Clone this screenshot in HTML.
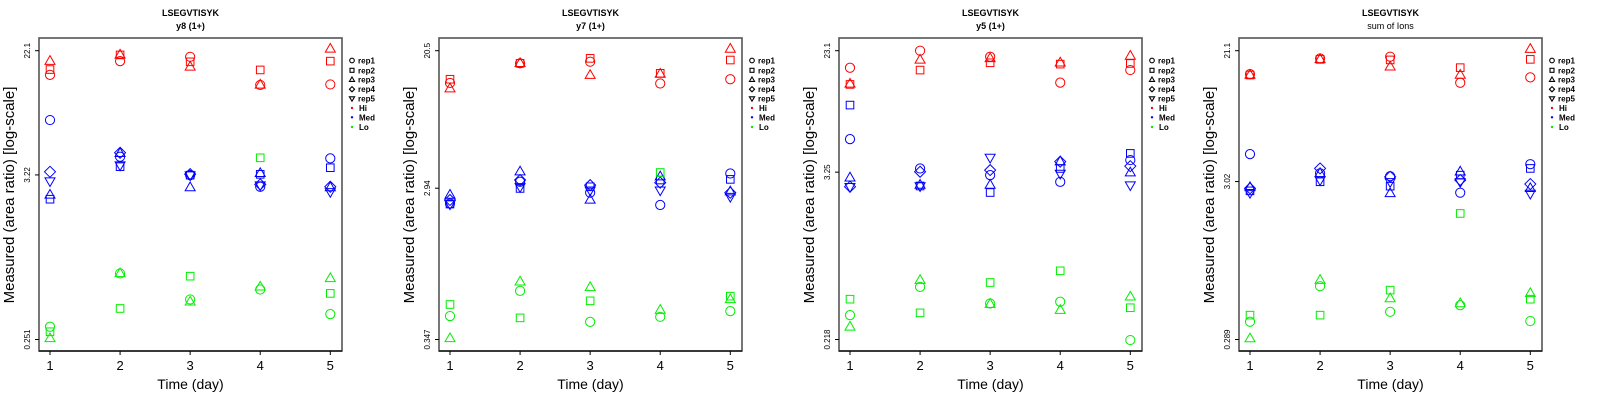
<!DOCTYPE html>
<html><head><meta charset="utf-8"><style>
html,body{margin:0;padding:0;background:#fff;}
svg{display:block;font-family:"Liberation Sans",sans-serif;}
</style></head><body>
<svg id="chart" width="1600" height="400" viewBox="0 0 1600 400" xmlns="http://www.w3.org/2000/svg"></svg>
<script>
const days = [1, 2, 3, 4, 5];
const panelTitles = ["y8 (1+)", "y7 (1+)", "y5 (1+)", "sum of Ions"];
const yTickTop = [22.1, 20.5, 23.1, 21.1];
const yTickMid = [3.22, 2.94, 3.25, 3.02];
const yTickBot = [0.251, 0.347, 0.218, 0.289];
const repNames = ["rep1", "rep2", "rep3", "rep4", "rep5"];
const levelNames = ["Hi", "Med", "Lo"];

// Panel 1 (y8)
const p1Hi = [[15.2,18.8,20.1,13.0,13.1],[16.5,20.7,18.6,16.4,18.8],[18.8,20.7,17.2,13.0,22.7]];
const p1Med = [[7.54,4.27,3.21,2.68,4.16],[2.21,3.66,3.21,3.25,3.60],[2.36,4.50,2.65,3.30,2.65],[3.38,4.54,3.26,2.78,2.68],[2.93,3.75,3.21,2.75,2.48]];
const p1Lo = [[0.306,0.699,0.467,0.545,0.372],[0.283,0.406,0.670,4.20,0.513],[0.255,0.699,0.450,0.568,0.647]];
// Panel 2 (y7)
const p2Hi = [[13.0,17.15,17.55,12.9,13.7],[13.7,17.15,18.4,14.9,17.97],[12.0,17.15,14.5,14.75,21.0]];
const p2Med = [[2.37,3.22,2.76,2.32,3.62],[2.35,2.93,3.00,3.30,3.33],[2.67,3.71,2.49,3.46,2.80],[2.49,3.30,3.07,3.18,2.76],[2.35,3.00,2.86,2.86,2.61]];
const p2Lo = [[0.483,0.690,0.445,0.478,0.518],[0.569,0.471,0.599,3.67,0.640],[0.352,0.784,0.724,0.525,0.611]];
// Panel 3 (y5)
const p3Hi = [[17.55,23.1,20.96,13.8,16.9],[13.4,16.9,19.0,18.6,18.8],[13.5,19.9,20.4,19.0,21.2]];
const p3Med = [[5.54,3.45,3.10,2.78,3.95],[9.60,2.60,2.34,3.45,4.40],[2.97,2.64,2.64,3.85,3.22],[2.57,3.27,3.36,3.85,3.58],[2.57,2.60,4.12,3.18,2.64]];
const p3Lo = [[0.323,0.510,0.390,0.401,0.216],[0.418,0.335,0.547,0.661,0.364],[0.267,0.568,0.386,0.350,0.434]];
// Panel 4 (sum of Ions)
const p4Hi = [[14.9,18.8,19.3,13.1,14.2],[14.7,18.55,18.4,16.4,18.55],[14.7,18.55,16.6,14.7,21.6]];
const p4Med = [[4.54,3.41,3.27,2.56,3.91],[2.63,3.01,2.82,3.32,3.67],[2.77,3.41,2.53,3.49,2.73],[2.73,3.67,3.24,3.09,2.91],[2.56,3.09,3.01,3.01,2.53]];
const p4Lo = [[0.376,0.638,0.436,0.481,0.380],[0.415,0.415,0.602,1.88,0.526],[0.293,0.698,0.531,0.493,0.573]];

const panelData = [[p1Hi,p1Med,p1Lo],[p2Hi,p2Med,p2Lo],[p3Hi,p3Med,p3Lo],[p4Hi,p4Med,p4Lo]];
const levelColors = ["#ff0000", "#0000ff", "#00ee00"];

const NS = "http://www.w3.org/2000/svg";
const svg = document.getElementById("chart");
function mk(tag, attrs, parent) {
  const e = document.createElementNS(NS, tag);
  for (const k in attrs) e.setAttribute(k, attrs[k]);
  (parent || svg).appendChild(e);
  return e;
}
function marker(g, shape, cx, cy, color) {
  let e;
  if (shape === 0) e = mk("circle", {cx: cx, cy: cy, r: 4.6, fill: "none", stroke: color, "stroke-width": 1}, g);
  else if (shape === 1) e = mk("rect", {x: cx - 3.8, y: cy - 3.8, width: 7.6, height: 7.6, fill: "none", stroke: color, "stroke-width": 1}, g);
  else if (shape === 2) e = mk("polygon", {points: `${cx},${cy-5.5} ${cx+5},${cy+3.2} ${cx-5},${cy+3.2}`, fill: "none", stroke: color, "stroke-width": 1}, g);
  else if (shape === 3) e = mk("polygon", {points: `${cx},${cy-5.5} ${cx+5.5},${cy} ${cx},${cy+5.5} ${cx-5.5},${cy}`, fill: "none", stroke: color, "stroke-width": 1}, g);
  else e = mk("polygon", {points: `${cx},${cy+5.5} ${cx+5},${cy-3.2} ${cx-5},${cy-3.2}`, fill: "none", stroke: color, "stroke-width": 1}, g);
  return e;
}

for (let p = 0; p < 4; p++) {
  const ox = p * 400;
  const g = mk("g", {transform: `translate(${ox},0)`});
  
  
  const left = 39, right = 342, top = 38, bottom = 351;
  const yTopPx = 50.7, yBotPx = 339.5;
  const lt = Math.log10(yTickTop[p]), lb = Math.log10(yTickBot[p]);
  const yScale = v => yTopPx + (lt - Math.log10(v)) / (lt - lb) * (yBotPx - yTopPx);
  const xScale = d => 50 + (d - 1) * (330.3 - 50) / 4;

  const t1 = mk("text", {x: 190.5, y: 16, "text-anchor": "middle", "font-size": 9, "font-weight": "bold"}, g);
  t1.textContent = "LSEGVTISYK";
  
  
  const t2 = mk("text", {x: 190.5, y: 29, "text-anchor": "middle", "font-size": 9, "font-weight": p === 3 ? "normal" : "bold"}, g);
  t2.textContent = panelTitles[p];
  
  

  const box = mk("rect", {x: left, y: top, width: right - left, height: bottom - top, fill: "none", stroke: "#555", "stroke-width": 1.6}, g);
  
  
  mk("line", {x1: left, y1: bottom, x2: right, y2: bottom, stroke: "#000", "stroke-width": 1.2}, g);

  // x axis
  days.forEach(d => {
    const x = xScale(d);
    const tk = mk("line", {x1: x, y1: bottom, x2: x, y2: bottom + 4, stroke: "#000", "stroke-width": 1}, g);
    
    
    const tl = mk("text", {x: x, y: 370, "text-anchor": "middle", "font-size": 13}, g);
    tl.textContent = String(d);
    
    
  });
  const xt = mk("text", {x: 190.5, y: 389, "text-anchor": "middle", "font-size": 14}, g);
  xt.textContent = "Time (day)";
  
  

  // y axis
  [yTickTop[p], yTickMid[p], yTickBot[p]].forEach(v => {
    const y = yScale(v);
    const tk = mk("line", {x1: left - 4, y1: y, x2: left, y2: y, stroke: "#000", "stroke-width": 1}, g);
    
    
    const tl = mk("text", {x: 0, y: 0, "text-anchor": "middle", "font-size": 8, transform: `translate(30,${y}) rotate(-90)`}, g);
    tl.textContent = String(v);
    
    
  });
  const yt = mk("text", {x: 0, y: 0, "text-anchor": "middle", "font-size": 15, transform: `translate(14,195) rotate(-90)`}, g);
  yt.textContent = "Measured (area ratio) [log-scale]";
  
  

  // points
  for (let lv = 0; lv < 3; lv++) {
    const reps = panelData[p][lv];
    reps.forEach((series, r) => {
      series.forEach((v, i) => {
        const m = marker(g, r, xScale(days[i]), yScale(v), levelColors[lv]);
        
        
      });
    });
  }

  // legend
  const lg = mk("g", {}, g);
  
  
  const rowY = [60.5, 70.3, 79.6, 89.2, 98.6, 108, 117.3, 127];
  repNames.forEach((n, i) => {
    const cy = rowY[i];
    let e;
    if (i === 0) e = mk("circle", {cx: 352, cy: cy, r: 2.3, fill: "none", stroke: "#000", "stroke-width": 1.1}, lg);
    else if (i === 1) e = mk("rect", {x: 350, y: cy - 2, width: 4, height: 4, fill: "none", stroke: "#000", "stroke-width": 1.1}, lg);
    else if (i === 2) e = mk("polygon", {points: `352,${cy-2.6} 354.6,${cy+1.8} 349.4,${cy+1.8}`, fill: "none", stroke: "#000", "stroke-width": 1.1}, lg);
    else if (i === 3) e = mk("polygon", {points: `352,${cy-2.6} 354.6,${cy} 352,${cy+2.6} 349.4,${cy}`, fill: "none", stroke: "#000", "stroke-width": 1.1}, lg);
    else e = mk("polygon", {points: `352,${cy+2.6} 354.6,${cy-1.8} 349.4,${cy-1.8}`, fill: "none", stroke: "#000", "stroke-width": 1.1}, lg);
    
    
    const t = mk("text", {x: 358, y: cy + 3, "font-size": 8, "font-weight": "bold"}, lg);
    t.textContent = n;
    
    
  });
  levelNames.forEach((n, i) => {
    const cy = rowY[5 + i];
    const d = mk("circle", {cx: 352, cy: cy, r: 1.2, fill: levelColors[i]}, lg);
    
    
    const t = mk("text", {x: 359, y: cy + 3, "font-size": 8, "font-weight": "bold"}, lg);
    t.textContent = n;
    
    
  });
}
</script>
</body></html>
